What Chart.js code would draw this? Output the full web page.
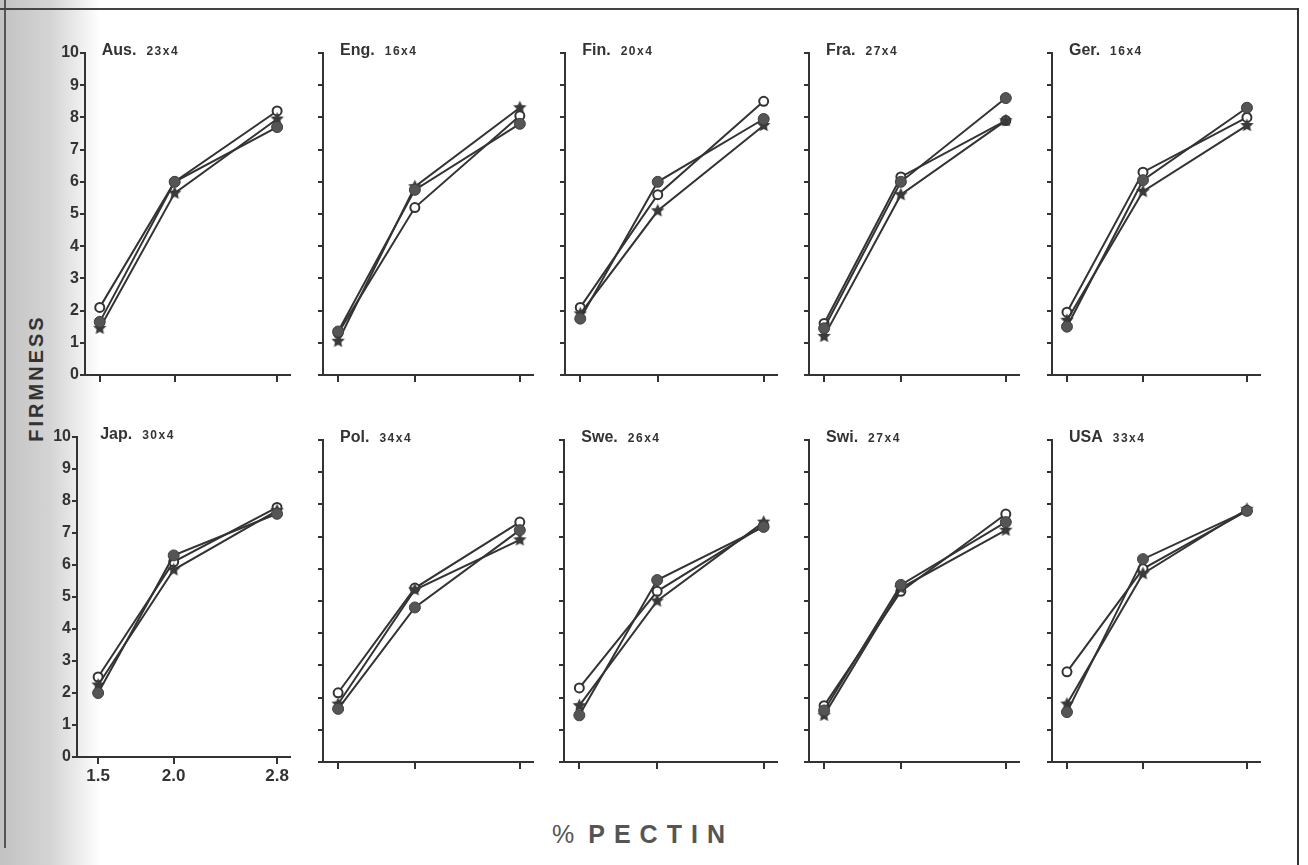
<!DOCTYPE html>
<html>
<head>
<meta charset="utf-8">
<title>Firmness vs % pectin</title>
<script src="https://cdn.jsdelivr.net/npm/chart.js@4.4.1/dist/chart.umd.min.js"></script>
<style>
  html, body { margin: 0; padding: 0; background: #fff; }
  #page { position: relative; width: 1308px; height: 865px; overflow: hidden; background: #fff;
          font-family: 'Liberation Sans', Arial, Helvetica, sans-serif; }
  .shade { position: absolute; left: 0; top: 0; width: 100px; height: 865px;
           background: linear-gradient(to right, #c2c2c2 0%, #d4d4d4 50%, rgba(255,255,255,0) 100%); }
  .edge-left { position: absolute; left: 4px; top: 0; width: 2px; height: 848px; background: #555; }
  .edge-top { position: absolute; left: 0; top: 8px; width: 1299px; height: 2px; background: #444; }
  .edge-right { position: absolute; left: 1297px; top: 8px; width: 2px; height: 857px; background: #333; }
  .panel { position: absolute; }
  #ylab { position: absolute; left: 36px; top: 378px; transform: translate(-50%, -50%) rotate(-90deg);
          font-weight: bold; font-size: 20px; letter-spacing: 3px; color: #333; white-space: nowrap; }
  #xlab { position: absolute; left: 643px; top: 834px; transform: translate(-50%, -50%);
          font-size: 25px; color: #555; white-space: nowrap; }
  #xlab b { letter-spacing: 9px; margin-left: 14px; }
</style>
</head>
<body>
<div id="page">
  <div class="shade"></div>
  <div class="edge-left"></div>
  <div class="edge-top"></div>
  <div class="edge-right"></div>
  <div id="ylab">FIRMNESS</div>
  <div id="xlab">%<b>PECTIN</b></div>
</div>
<script>
// data
const pectin = [1.5, 2.0, 2.8];
const yTicks = [0, 1, 2, 3, 4, 5, 6, 7, 8, 9, 10];
const countries = ['Aus.', 'Eng.', 'Fin.', 'Fra.', 'Ger.', 'Jap.', 'Pol.', 'Swe.', 'Swi.', 'USA'];
const panelN = ['23x4', '16x4', '20x4', '27x4', '16x4', '30x4', '34x4', '26x4', '27x4', '33x4'];

const openCircle = [
  [2.1, 6.0, 8.2], [1.3, 5.2, 8.05], [2.1, 5.6, 8.5], [1.6, 6.15, 7.9], [1.95, 6.3, 8.0],
  [2.5, 6.1, 7.8], [2.15, 5.4, 7.45], [2.3, 5.3, 7.35], [1.75, 5.3, 7.7], [2.8, 6.0, 7.8],
];
const filledCircle = [
  [1.65, 6.0, 7.7], [1.35, 5.75, 7.8], [1.75, 6.0, 7.95], [1.45, 6.0, 8.6], [1.5, 6.05, 8.3],
  [2.0, 6.3, 7.6], [1.65, 4.8, 7.2], [1.45, 5.65, 7.3], [1.6, 5.5, 7.45], [1.55, 6.3, 7.8],
];
const starPoint = [
  [1.45, 5.65, 7.95], [1.05, 5.85, 8.3], [1.9, 5.1, 7.75], [1.2, 5.6, 7.9], [1.7, 5.7, 7.75],
  [2.25, 5.85, 7.7], [1.8, 5.35, 6.9], [1.75, 5.0, 7.45], [1.45, 5.4, 7.2], [1.8, 5.85, 7.85],
];

// plot areas of the panels on the page (axis line x, right end, y of 10, y of 0)
const axisLeft = [85, 323, 565, 809, 1052, 77, 323, 564, 809, 1052];
const axisRight = [290, 533, 777, 1019, 1260, 290, 533, 777, 1019, 1260];
const axisTop = [53, 53, 53, 53, 53, 437, 440, 440, 440, 440];
const axisBottom = [375, 375, 375, 375, 375, 757, 762, 762, 762, 762];
const xMin = [1.41, 1.41, 1.41, 1.41, 1.41, 1.373, 1.41, 1.41, 1.41, 1.41];
const xMax = 2.91;

const ink = '#333';
const tickFont = { family: "'Liberation Sans', Arial, sans-serif", weight: 'bold', size: 16 };

// the x axis of the original is spaced like a square-root scale
class SqrtScale extends Chart.LinearScale {
  getPixelForValue(value) {
    const a = Math.sqrt(this.min), b = Math.sqrt(this.max);
    return this.getPixelForDecimal((Math.sqrt(value) - a) / (b - a));
  }
  getValueForPixel(pixel) {
    const a = Math.sqrt(this.min), b = Math.sqrt(this.max);
    const s = a + this.getDecimalForPixel(pixel) * (b - a);
    return s * s;
  }
}
SqrtScale.id = 'sqrt';
SqrtScale.defaults = Chart.LinearScale.defaults;
Chart.register(SqrtScale);

const makeStar = (size, color) => {
  const c = document.createElement('canvas');
  c.width = size;
  c.height = size;
  const g = c.getContext('2d');
  const r = size / 2;
  g.beginPath();
  for (let i = 0; i < 10; i++) {
    const a = -Math.PI / 2 + i * Math.PI / 5;
    const rr = i % 2 ? r * 0.45 : r - 0.5;
    g.lineTo(r + rr * Math.cos(a), r + rr * Math.sin(a));
  }
  g.closePath();
  g.fillStyle = color;
  g.fill();
  return c;
};
const starImg = makeStar(15, '#3a3a3a');

const panelTitle = {
  id: 'panelTitle',
  afterDraw(chart, args, opts) {
    const { ctx, chartArea } = chart;
    const x = chart.scales.x.getPixelForValue(pectin[0]) + 2;
    const y = chartArea.top + 2;
    ctx.save();
    ctx.fillStyle = ink;
    ctx.textBaseline = 'alphabetic';
    ctx.font = "bold 16px 'Liberation Sans', Arial, sans-serif";
    ctx.fillText(opts.name, x, y);
    const w = ctx.measureText(opts.name).width;
    ctx.font = "bold 12px 'Liberation Sans', Arial, sans-serif";
    ctx.letterSpacing = '1.5px';
    ctx.fillText(opts.n, x + w + 10, y);
    ctx.restore();
  },
};

const toPoints = (vals) => pectin.map((p, i) => ({ x: p, y: vals[i] }));

const renderPanel = (i) => {
  const page = document.getElementById('page');
  const div = document.createElement('div');
  div.className = 'panel';
  const padTop = 30, yW = 40, xH = 40, padRight = 10;
  const w = axisRight[i] - axisLeft[i] + yW + padRight;
  const h = axisBottom[i] - axisTop[i] + padTop + xH;
  div.style.left = (axisLeft[i] - yW) + 'px';
  div.style.top = (axisTop[i] - padTop) + 'px';
  div.style.width = w + 'px';
  div.style.height = h + 'px';
  const canvas = document.createElement('canvas');
  canvas.width = w;
  canvas.height = h;
  div.appendChild(canvas);
  page.appendChild(div);

  const showY = i === 0 || i === 5;
  const showX = i === 5;

  return new Chart(canvas, {
    type: 'line',
    data: {
      datasets: [
        {
          label: 'filled',
          data: toPoints(filledCircle[i]),
          borderColor: ink,
          borderWidth: 2,
          pointStyle: 'circle',
          pointRadius: 5.5,
          pointBackgroundColor: '#555',
          pointBorderColor: '#404040',
          pointBorderWidth: 1,
        },
        {
          label: 'star',
          data: toPoints(starPoint[i]),
          borderColor: ink,
          borderWidth: 2,
          pointStyle: starImg,
          pointRadius: 7,
        },
        {
          label: 'open',
          data: toPoints(openCircle[i]),
          borderColor: ink,
          borderWidth: 2,
          pointStyle: 'circle',
          pointRadius: 4.5,
          pointBackgroundColor: '#fff',
          pointBorderColor: ink,
          pointBorderWidth: 2,
        },
      ],
    },
    options: {
      responsive: false,
      animation: false,
      devicePixelRatio: 1,
      layout: { padding: { top: padTop, right: padRight, left: 0, bottom: 0 } },
      plugins: {
        legend: { display: false },
        tooltip: { enabled: false },
        panelTitle: { name: countries[i], n: panelN[i] },
      },
      scales: {
        x: {
          type: 'sqrt',
          min: xMin[i],
          max: xMax,
          afterBuildTicks: (s) => { s.ticks = pectin.map((v) => ({ value: v })); },
          afterFit: (s) => { s.height = xH; },
          grid: { drawOnChartArea: false, drawTicks: true, tickLength: 7, color: ink, lineWidth: 2 },
          border: { display: true, color: ink, width: 2 },
          ticks: {
            display: showX,
            padding: 2,
            color: ink,
            autoSkip: false,
            maxRotation: 0,
            font: { ...tickFont, size: 17 },
            callback: (v) => Number(v).toFixed(1),
          },
        },
        y: {
          min: 0,
          max: 10,
          afterBuildTicks: (s) => { s.ticks = yTicks.map((v) => ({ value: v })); },
          afterFit: (s) => { s.width = yW; },
          grid: { drawOnChartArea: false, drawTicks: true, tickLength: 5, color: ink, lineWidth: 2 },
          border: { display: true, color: ink, width: 2 },
          ticks: { display: showY, padding: 1, color: ink, font: tickFont },
        },
      },
    },
    plugins: [panelTitle],
  });
};

countries.forEach((c, i) => renderPanel(i));
</script>
</body>
</html>
